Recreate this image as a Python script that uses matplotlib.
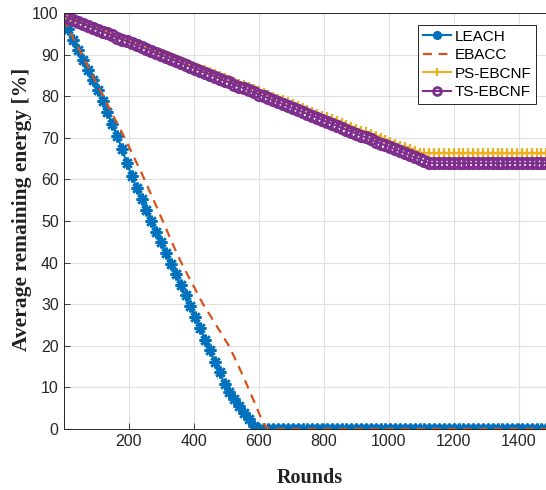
import numpy as np
import matplotlib
matplotlib.use('Agg')
from matplotlib import pyplot as plt

# Rounds (one point every 15 rounds)
rounds = np.arange(0, 1501, 15)

leach = [98.5, 96.1, 93.6, 91.2, 88.8, 86.3, 83.9, 81.5, 78.9, 76.1,
         73.2, 70.4, 67.2, 63.9, 60.7, 57.9, 55.3, 52.6, 50.0, 47.4,
         44.9, 42.3, 39.7, 37.2, 34.6, 32.1, 29.5, 26.9, 24.2, 21.5,
         18.9, 16.2, 13.6, 10.9, 8.9, 7.2, 5.6, 3.9, 2.3, 0.7,
         0.0, 0.0, 0.0, 0.0, 0.0, 0.0, 0.0, 0.0, 0.0, 0.0,
         0.0, 0.0, 0.0, 0.0, 0.0, 0.0, 0.0, 0.0, 0.0, 0.0,
         0.0, 0.0, 0.0, 0.0, 0.0, 0.0, 0.0, 0.0, 0.0, 0.0,
         0.0, 0.0, 0.0, 0.0, 0.0, 0.0, 0.0, 0.0, 0.0, 0.0,
         0.0, 0.0, 0.0, 0.0, 0.0, 0.0, 0.0, 0.0, 0.0, 0.0,
         0.0, 0.0, 0.0, 0.0, 0.0, 0.0, 0.0, 0.0, 0.0, 0.0,
         0.0]

ebacc = [98.5, 96.2, 93.9, 91.7, 89.4, 87.1, 84.8, 82.5, 80.3, 78.0,
         75.7, 73.4, 71.2, 68.9, 66.4, 63.9, 61.5, 58.9, 56.2, 53.6,
         50.9, 48.2, 45.5, 42.8, 40.3, 38.0, 35.8, 33.6, 31.3, 29.2,
         27.4, 25.5, 23.6, 21.7, 19.8, 17.3, 14.8, 12.2, 9.5, 6.8,
         4.0, 1.3, 0.0, 0.0, 0.0, 0.0, 0.0, 0.0, 0.0, 0.0,
         0.0, 0.0, 0.0, 0.0, 0.0, 0.0, 0.0, 0.0, 0.0, 0.0,
         0.0, 0.0, 0.0, 0.0, 0.0, 0.0, 0.0, 0.0, 0.0, 0.0,
         0.0, 0.0, 0.0, 0.0, 0.0, 0.0, 0.0, 0.0, 0.0, 0.0,
         0.0, 0.0, 0.0, 0.0, 0.0, 0.0, 0.0, 0.0, 0.0, 0.0,
         0.0, 0.0, 0.0, 0.0, 0.0, 0.0, 0.0, 0.0, 0.0, 0.0,
         0.0]

ps_ebcnf = [99.3, 98.8, 98.4, 97.9, 97.5, 97.0, 96.6, 96.1, 95.7, 95.2,
            94.8, 94.3, 93.9, 93.4, 93.0, 92.5, 92.1, 91.6, 91.2, 90.7,
            90.3, 89.8, 89.4, 88.9, 88.5, 88.0, 87.6, 87.1, 86.6, 86.2,
            85.7, 85.3, 84.8, 84.4, 83.9, 83.5, 83.0, 82.6, 82.1, 81.7,
            81.2, 80.8, 80.3, 79.9, 79.4, 79.0, 78.5, 78.1, 77.6, 77.2,
            76.7, 76.3, 75.8, 75.3, 74.9, 74.4, 74.0, 73.5, 73.1, 72.6,
            72.2, 71.7, 71.3, 70.8, 70.4, 69.9, 69.5, 69.0, 68.6, 68.1,
            67.7, 67.2, 66.8, 66.3, 66.3, 66.3, 66.3, 66.3, 66.3, 66.3,
            66.3, 66.3, 66.3, 66.3, 66.3, 66.3, 66.3, 66.3, 66.3, 66.3,
            66.3, 66.3, 66.3, 66.3, 66.3, 66.3, 66.3, 66.3, 66.3, 66.3,
            66.3]

ts_ebcnf = [99.3, 98.8, 98.4, 97.9, 97.4, 96.9, 96.5, 96.0, 95.5, 95.1,
            94.6, 94.1, 93.6, 93.2, 92.7, 92.2, 91.8, 91.3, 90.8, 90.3,
            89.9, 89.4, 88.9, 88.5, 88.0, 87.5, 87.0, 86.6, 86.1, 85.6,
            85.2, 84.7, 84.2, 83.7, 83.3, 82.8, 82.3, 81.9, 81.4, 80.9,
            80.4, 80.0, 79.5, 79.0, 78.5, 78.1, 77.6, 77.1, 76.7, 76.2,
            75.7, 75.2, 74.8, 74.3, 73.8, 73.4, 72.9, 72.4, 71.9, 71.5,
            71.0, 70.5, 70.1, 69.6, 69.1, 68.6, 68.2, 67.7, 67.2, 66.8,
            66.3, 65.8, 65.3, 64.9, 64.4, 63.9, 63.9, 63.9, 63.9, 63.9,
            63.9, 63.9, 63.9, 63.9, 63.9, 63.9, 63.9, 63.9, 63.9, 63.9,
            63.9, 63.9, 63.9, 63.9, 63.9, 63.9, 63.9, 63.9, 63.9, 63.9,
            63.9]

xticks = [200, 400, 600, 800, 1000, 1200, 1400]
yticks = [0, 10, 20, 30, 40, 50, 60, 70, 80, 90, 100]

plt.rcParams['font.family'] = ['Liberation Sans', 'DejaVu Sans']

fig = plt.figure(figsize=(5.46, 4.9), dpi=100)
# right edge of the axes runs slightly past the picture, like the cropped original
ax = fig.add_axes([0.1165, 0.1245, 0.893, 0.849])

ax.plot(rounds, leach, color='#0072BD', lw=1.5, marker=(8, 2, 0), ms=8.5,
        mew=1.8, label='LEACH')
ax.plot(rounds, ebacc, color='#D95319', lw=1.6, linestyle=(0, (4, 3)),
        label='EBACC')
ax.plot(rounds, ps_ebcnf, color='#EDB120', lw=1.5, marker='+', ms=7.5,
        mew=1.6, label='PS-EBCNF')
ax.plot(rounds, ts_ebcnf, color='#7E2F8E', lw=1.5, marker='o', ms=7.5,
        mew=2.0, mfc='none', label='TS-EBCNF')

ax.set_xlim(0, 1500)
ax.set_ylim(0, 100)
ax.set_xticks(xticks)
ax.set_yticks(yticks)
ax.grid(True, color='#e0e0e0', lw=0.8)
ax.set_axisbelow(True)
ax.tick_params(direction='in', length=4, width=0.6, colors='#262626',
               labelsize=11.5, top=False, right=False)
for s in ax.spines.values():
    s.set_color('#262626')
    s.set_linewidth(0.7)

fig.text(0.568, 0.025, 'Rounds', family='Liberation Serif', weight='bold',
         fontsize=14.5, ha='center', va='center', color='#222222')
fig.text(0.04, 0.572, 'Average remaining energy [%]', family='Liberation Serif',
         weight='bold', fontsize=15.5, rotation=90, ha='center', va='center',
         color='#222222')

leg = ax.legend(loc='upper right', bbox_to_anchor=(536 / 546, 1 - 25 / 490),
                bbox_transform=fig.transFigure, borderaxespad=0,
                fontsize=11, fancybox=False, framealpha=1, handlelength=1.85,
                handletextpad=0.25, labelspacing=0.3, borderpad=0.3,
                markerscale=0.75)
leg.get_frame().set_edgecolor('#262626')
leg.get_frame().set_linewidth(0.7)

plt.savefig('out.png', dpi=100)
